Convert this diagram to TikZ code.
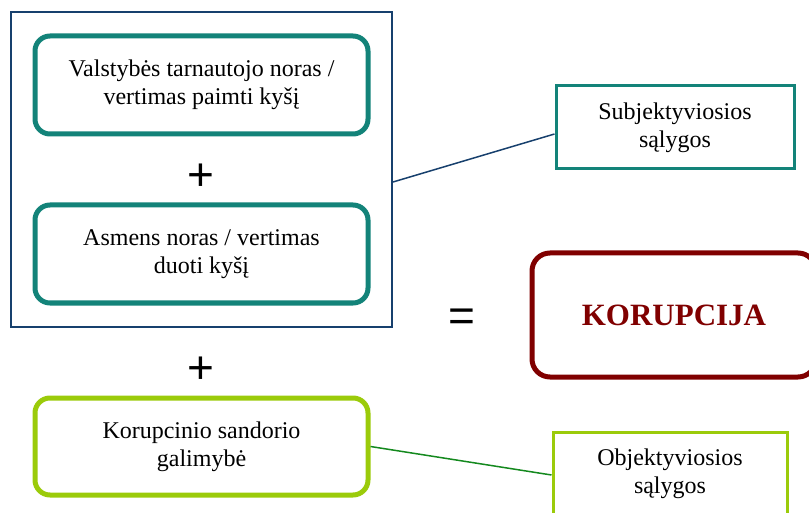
\documentclass[tikz,border=0pt]{standalone}
\usepackage{fontspec}
\setmainfont{Liberation Serif}
\newfontfamily\signfont{Liberation Sans}
\usepackage{tikz}
\usetikzlibrary{positioning,calc}
\usepackage{xcolor}
\definecolor{navyline}{HTML}{17406D}
\definecolor{tealline}{HTML}{138379}
\definecolor{limeline}{HTML}{9BCB0A}
\definecolor{greenline}{HTML}{14891E}
\definecolor{korred}{HTML}{800000}
\tikzset{
  boxtext/.style={font=\fontsize{24}{28}\selectfont, align=center, inner sep=0pt},
  tealbox/.style={boxtext, draw=tealline, line width=5pt, rounded corners=15pt,
    minimum width=333pt, minimum height=98pt},
  limebox/.style={boxtext, draw=limeline, line width=5pt, rounded corners=15pt,
    minimum width=333pt, minimum height=97pt},
  sidebox/.style={boxtext, line width=3pt, minimum width=238pt, minimum height=83pt},
  sign/.style={font=\signfont\fontsize{46}{46}\selectfont, inner sep=0pt}
}

\begin{document}
\begin{tikzpicture}[x=1pt, y=-1pt]
  \useasboundingbox (0,0) rectangle (809,513);

  % subjective part
  \node[draw=navyline, line width=2pt, minimum width=381pt, minimum height=315pt] (outer) at (201.5,169.5) {};
  \node[tealbox] (official) at (201.5,85) {Valstybės tarnautojo noras /\\vertimas paimti kyšį};
  \node[sign] (plusA) at (201,177) {+};
  \node[tealbox] (person) at (201.5,254) {Asmens noras / vertimas\\duoti kyšį};

  % objective part
  \node[sign] (plusB) at (201,370) {+};
  \node[limebox] (chance) at (201.5,446.5) {Korupcinio sandorio\\galimybė};

  % result
  \node[sign] (equals) at (462,320) {=};
  \node[draw=korred, line width=5pt, rounded corners=18pt, minimum width=284pt, minimum height=124pt,
    text=korred, font=\bfseries\fontsize{31}{31}\selectfont] (result) at (674,315) {KORUPCIJA};

  % labels on the right
  \node[sidebox, draw=tealline] (subj) at (675,127.5) {Subjektyviosios\\sąlygos};
  \node[sidebox, draw=limeline, minimum width=234pt] (obj) at (670,473.5) {Objektyviosios\\sąlygos};

  \draw[navyline, line width=1.5pt] ([yshift=-12.5pt]outer.east) -- ([yshift=-6.5pt]subj.west);
  \draw[greenline, line width=1.5pt] (chance.east) -- ([yshift=-1.5pt]obj.west);
\end{tikzpicture}
\end{document}
